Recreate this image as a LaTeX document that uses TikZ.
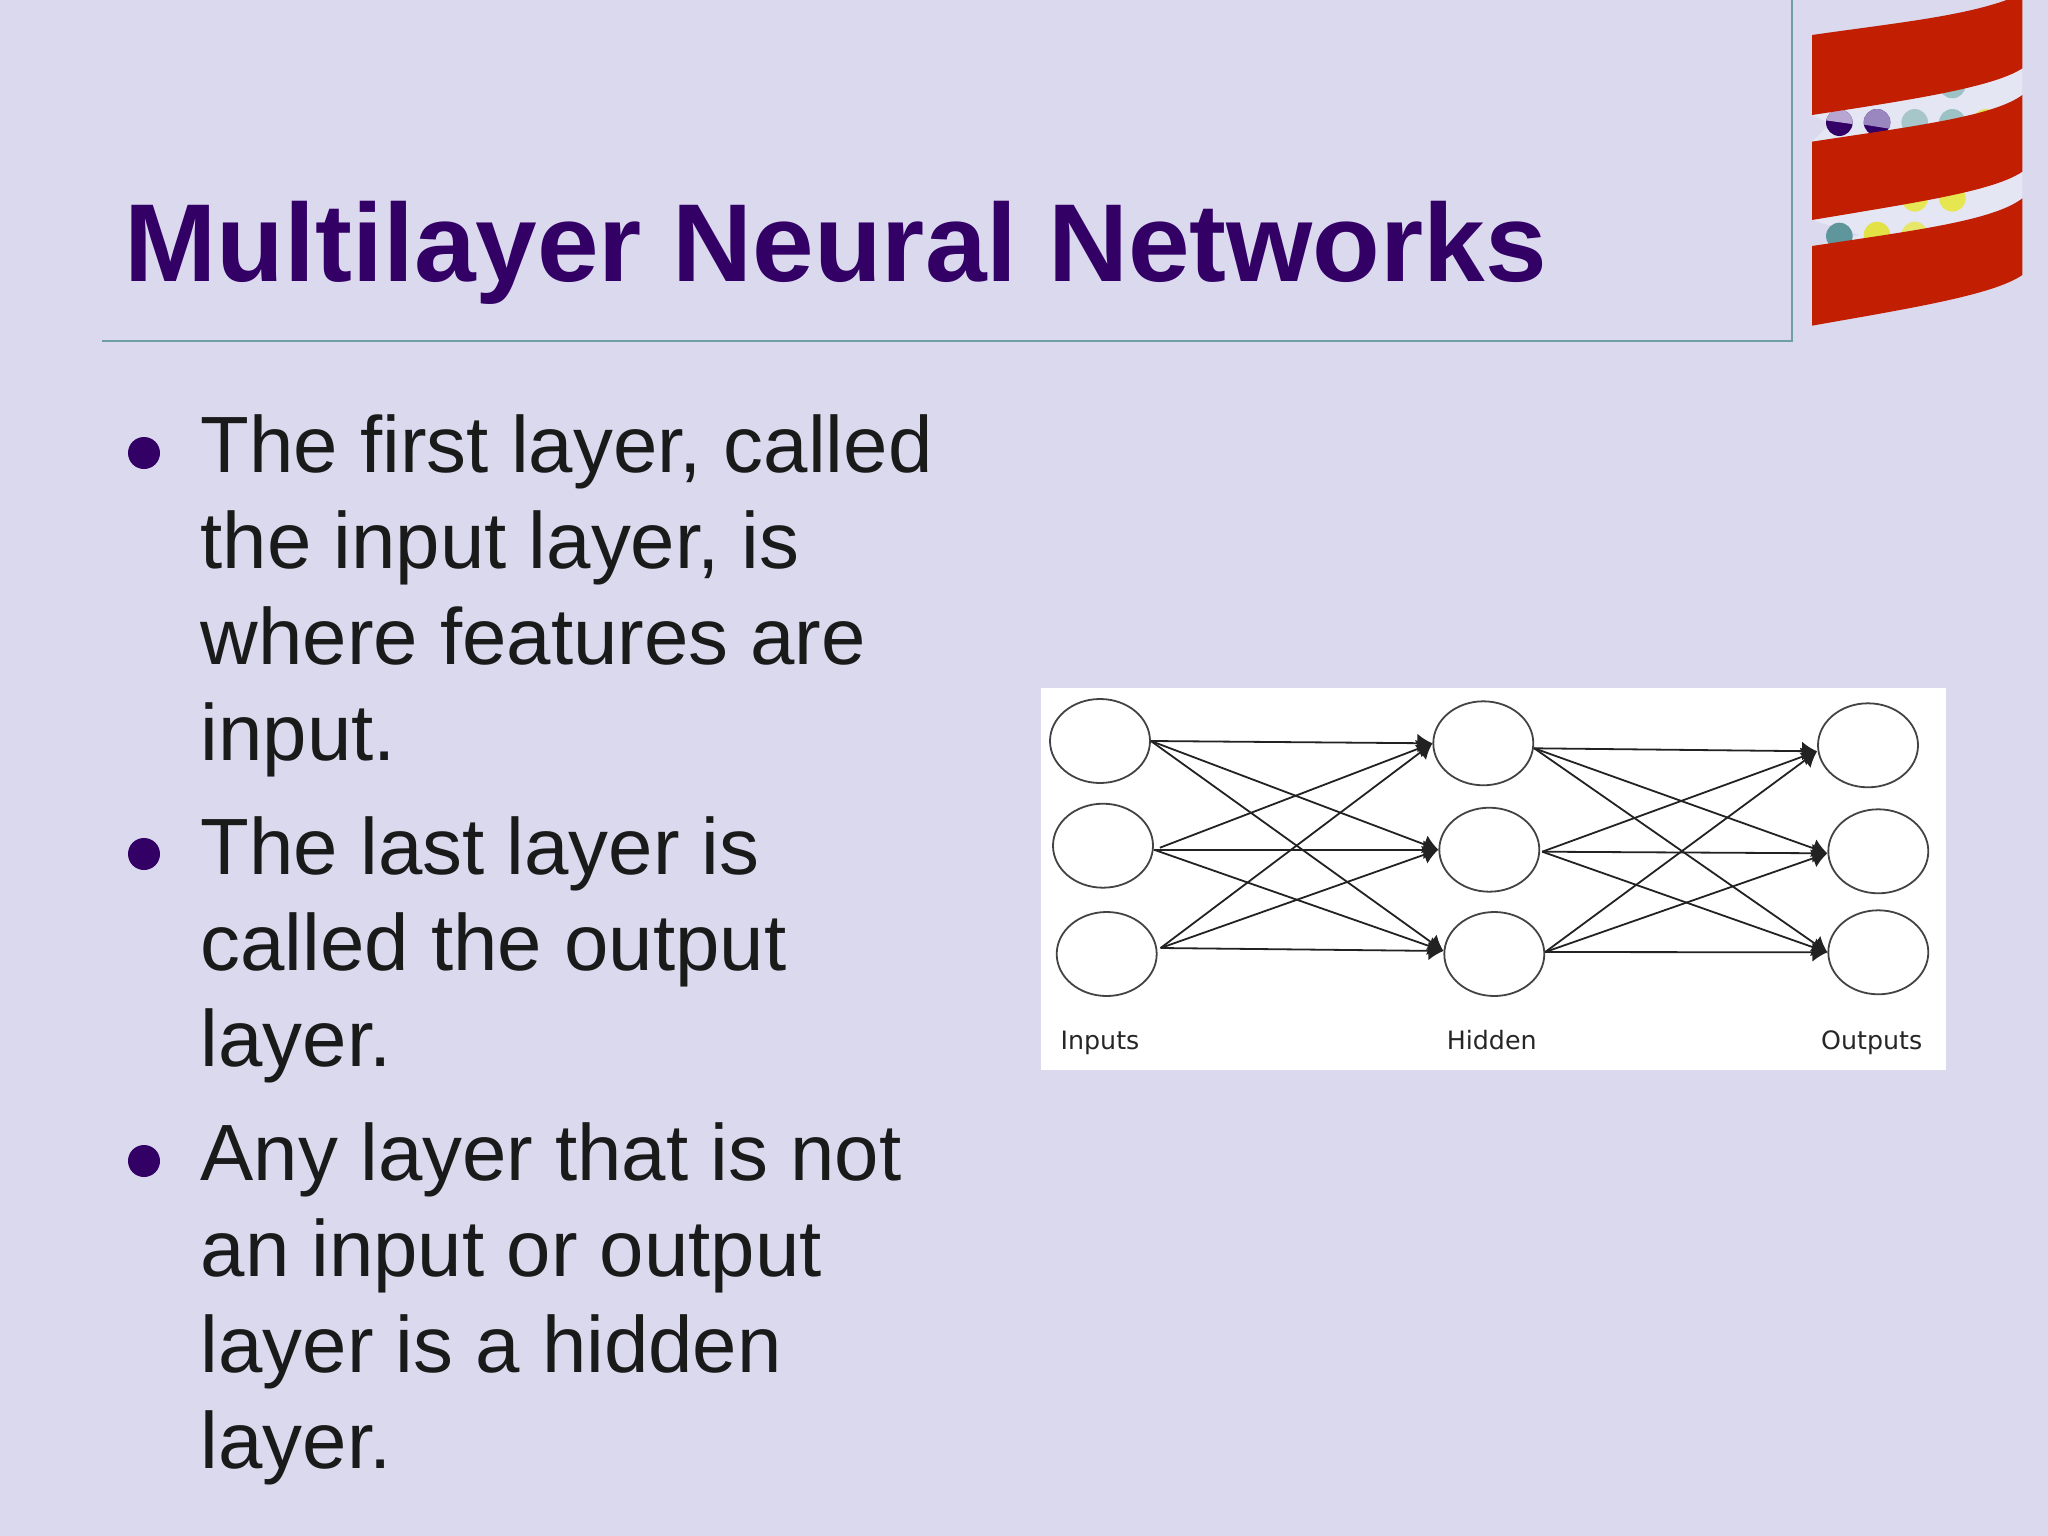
\documentclass[tikz,border=0pt]{standalone}
\usepackage{fontspec}
\setmainfont{Liberation Sans}
\newfontfamily\smallfont{DejaVu Sans}
\usetikzlibrary{shapes.geometric,arrows.meta}
\definecolor{slidebg}{HTML}{DAD9EE}
\definecolor{titlecol}{HTML}{330066}
\definecolor{rulecol}{HTML}{6F9FA5}
\definecolor{bodycol}{HTML}{1A1A1A}
\definecolor{logored}{HTML}{C21E02}
\definecolor{gapcol}{HTML}{E5E6F3}
\definecolor{netline}{HTML}{222222}
\tikzset{
  neuron/.style={ellipse,draw=netline!85,line width=1.8pt,minimum width=100pt,minimum height=84pt,inner sep=0pt,fill=white},
  link/.style={draw=netline,line width=1.8pt,-{Latex[length=15pt,width=19pt]}},
  netlabel/.style={anchor=base,inner sep=0pt,text=black!85,font=\smallfont\fontsize{25.3}{30}\selectfont},
  bodytext/.style={anchor=base west,inner sep=0pt,align=left,text=bodycol,font=\fontsize{79.8}{95.8}\selectfont},
  bulletdot/.style={circle,fill=titlecol,minimum size=32pt,inner sep=0pt},
}
\newcommand{\lz}[2]{({1760+(#1)/3},{(#2)/3})}
\begin{document}
\begin{tikzpicture}[x=1pt,y=-1pt]
\useasboundingbox (0,0) rectangle (2048,1536);
\fill[slidebg] (0,0) rectangle (2048,1536);
% title frame
\draw[rulecol,line width=1.6pt] (102,341) -- (1792,341) -- (1792,0);
\node[anchor=base west,inner sep=0pt,text=titlecol,font=\bfseries\fontsize{110.8}{120}\selectfont] (title) at (124.5,281.5) {Multilayer Neural Networks};
% logo: gaps
\fill[gapcol] \lz{156}{345} .. controls \lz{450}{300} and \lz{700}{262} .. \lz{787}{205} -- \lz{787}{285} .. controls \lz{700}{350} and \lz{450}{380} .. \lz{156}{425} -- \lz{210}{372} -- cycle;
\fill[gapcol] \lz{156}{660} .. controls \lz{450}{610} and \lz{700}{575} .. \lz{787}{515} -- \lz{787}{595} .. controls \lz{700}{663} and \lz{450}{693} .. \lz{156}{738} -- \lz{300}{705} -- cycle;
% logo: dots
\fill[titlecol] \lz{238}{368} circle (13.3);
\begin{scope}\clip \lz{238}{368} circle (13.3);\fill[color={rgb,255:red,184;green,166;blue,210}] \lz{190}{320} -- \lz{290}{320} -- \lz{290}{374} -- \lz{190}{360} -- cycle;\end{scope}
\fill[titlecol] \lz{351}{367} circle (13.3);
\begin{scope}\clip \lz{351}{367} circle (13.3);\fill[color={rgb,255:red,155;green,135;blue,192}] \lz{300}{320} -- \lz{400}{320} -- \lz{400}{388} -- \lz{300}{372} -- cycle;\end{scope}
\fill[color={rgb,255:red,166;green,198;blue,202}] \lz{464}{367} circle (13.3);
\fill[color={rgb,255:red,156;green,194;blue,198}] \lz{577}{367} circle (13.3);
\fill[color={rgb,255:red,156;green,194;blue,198}] \lz{577}{255} circle (13.3);
\fill[color={rgb,255:red,228;green,226;blue,90}] \lz{677}{367} circle (13.3);
\fill[color={rgb,255:red,94;green,150;blue,156}] \lz{238}{708} circle (13.3);
\fill[color={rgb,255:red,226;green,226;blue,70}] \lz{351}{705} circle (13.3);
\fill[color={rgb,255:red,230;green,230;blue,106}] \lz{464}{705} circle (13.3);
\fill[color={rgb,255:red,230;green,230;blue,86}] \lz{464}{595} circle (13.3);
\fill[color={rgb,255:red,230;green,230;blue,80}] \lz{577}{595} circle (13.3);
% logo: bands
\fill[logored] \lz{156}{105} .. controls \lz{400}{70} and \lz{600}{50} .. \lz{740}{0} -- \lz{787}{0} -- \lz{787}{205} .. controls \lz{700}{262} and \lz{450}{300} .. \lz{156}{345} -- cycle;
\fill[logored] \lz{156}{425} .. controls \lz{450}{380} and \lz{700}{350} .. \lz{787}{285} -- \lz{787}{515} .. controls \lz{700}{575} and \lz{450}{610} .. \lz{156}{660} -- cycle;
\fill[logored] \lz{156}{738} .. controls \lz{450}{693} and \lz{700}{663} .. \lz{787}{595} -- \lz{787}{825} .. controls \lz{700}{885} and \lz{450}{925} .. \lz{156}{977} -- cycle;
% bullets
\node[bulletdot] (b1) at (144,453) {};
\node[bulletdot] (b2) at (144,854) {};
\node[bulletdot] (b3) at (144,1161) {};
\node[bodytext] (t1) at (200.5,760) {The first layer, called\\the input layer, is\\where features are\\input.};
\node[bodytext] (t2) at (200.5,1066) {The last layer is\\called the output\\layer.};
\node[bodytext] (t3) at (200.5,1468) {Any layer that is not\\an input or output\\layer is a hidden\\layer.};
% network image
\node[fill=white,inner sep=0pt,minimum width=905pt,minimum height=382pt] (panel) at (1493.5,879) {};
\node[neuron] (i1) at (1100,741) {};
\node[neuron] (i2) at (1103,845.7) {};
\node[neuron] (i3) at (1106.7,954) {};
\node[neuron] (h1) at (1483.3,743.3) {};
\node[neuron] (h2) at (1489.3,849.7) {};
\node[neuron] (h3) at (1494.3,954) {};
\node[neuron] (o1) at (1868,745.3) {};
\node[neuron] (o2) at (1878.3,851.3) {};
\node[neuron] (o3) at (1878.3,952.3) {};
\coordinate (i2up) at ([xshift=6pt,yshift=-2pt]i2.east);
\coordinate (i2out) at ([yshift=-4pt]i2.east);
\coordinate (i3out) at ([xshift=3pt,yshift=6pt]i3.east);
\coordinate (h3in) at ([yshift=3pt]h3.west);
\coordinate (h1out) at ([yshift=-5pt]h1.east);
\coordinate (h2out) at ([xshift=2pt,yshift=-2pt]h2.east);
\coordinate (h3out) at ([yshift=2pt]h3.east);
\coordinate (o1in) at ([yshift=-6pt]o1.west);
\coordinate (o2in) at ([yshift=-2pt]o2.west);
\draw[link] (i1.east) -- (h1.west);
\draw[link] (i1.east) -- (h2.west);
\draw[link] (i1.east) -- (h3in);
\draw[link] (i2up) -- (h1.west);
\draw[link] (i2out) -- (h2.west);
\draw[link] (i2out) -- (h3in);
\draw[link] (i3out) -- (h1.west);
\draw[link] (i3out) -- (h2.west);
\draw[link] (i3out) -- (h3in);
\draw[link] (h1out) -- (o1in);
\draw[link] (h1out) -- (o2in);
\draw[link] (h1out) -- (o3.west);
\draw[link] (h2out) -- (o1in);
\draw[link] (h2out) -- (o2in);
\draw[link] (h2out) -- (o3.west);
\draw[link] (h3out) -- (o1in);
\draw[link] (h3out) -- (o2in);
\draw[link] (h3out) -- (o3.west);
\node[netlabel] (li) at (1100,1049) {Inputs};
\node[netlabel] (lh) at (1491.7,1049) {Hidden};
\node[netlabel] (lo) at (1871.7,1049) {Outputs};
\end{tikzpicture}
\end{document}
